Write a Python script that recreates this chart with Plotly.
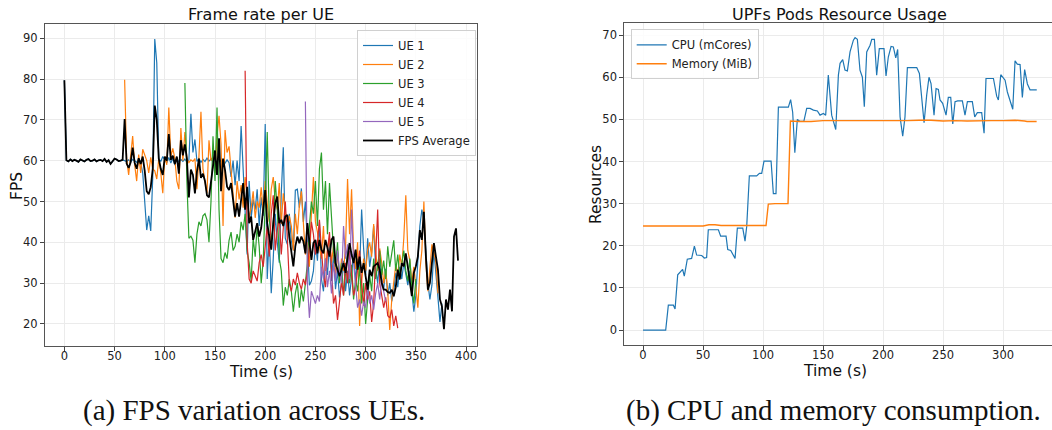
import numpy as np
import plotly.graph_objects as go

# ---------------- Left chart data (FPS, sampled every 2 s) ----------------
STEP = 2
avg_start, ue1_start, ue2_start, ue3_start, ue4_start, ue5_start = 0, 0, 60, 120, 180, 240

fps_avg = [79.7,
    60.1, 59.8, 60.3, 59.9, 60.2, 60.0, 59.7, 60.3, 60.1, 59.8, 60.2, 60.4, 59.9, 60.0, 60.3,
    59.8, 60.1, 60.2, 59.9, 60.4, 59.7, 60.1, 59.2, 60.0, 60.5, 60.3, 59.9, 60.0, 60.2,
    70.2, 59.3, 58.2, 59.6, 63.2, 59.5, 58.0, 60.6, 59.2, 61.0, 57.5, 52.5, 51.8, 53.5, 58.0,
    73.5, 70.0, 60.5, 58.0, 56.5, 61.0, 60.0, 66.5, 60.2, 61.2, 59.2, 61.0, 56.8, 65.0, 61.3,
    64.0, 60.5, 51.0, 57.8, 56.5, 52.0, 57.3, 60.5, 55.8, 56.8, 55.0, 51.5, 51.0, 55.2, 59.5,
    62.5, 56.5, 65.5, 52.5, 60.5, 57.7, 53.6, 52.8, 54.5, 50.4, 46.3, 49.6, 46.3, 50.4, 54.5,
    48.0, 53.6, 44.7, 46.3, 40.6, 43.0, 44.7, 41.4, 43.5, 48.0, 52.8, 44.7, 41.4, 38.2, 44.7,
    49.6, 51.2, 44.7, 45.5, 44.0, 46.3, 46.7, 41.4, 38.2, 34.1, 39.0, 41.4, 39.8, 41.4, 40.2,
    37.3, 44.7, 40.6, 35.7, 39.8, 40.6, 37.3, 40.6, 38.2, 37.3, 40.6, 38.5, 36.5, 40.6, 41.4,
    34.9, 33.3, 31.7, 33.3, 34.9, 32.5, 36.5, 39.8, 37.0, 34.9, 38.2, 33.3, 36.5, 32.5, 34.9,
    31.7, 28.4, 33.3, 31.7, 34.1, 34.5, 34.9, 33.3, 30.1, 28.4, 28.4, 27.8, 27.6, 28.4, 26.8,
    29.0, 33.3, 30.9, 34.9, 34.1, 37.3, 34.0, 30.9, 26.8, 32.5, 34.1, 36.5, 43.0, 40.6, 47.5,
    36.5, 28.4, 30.1, 34.9, 39.8, 36.5, 33.3, 26.0, 24.3, 18.7, 26.0, 23.5, 28.4, 23.1, 41.4,
    43.4, 35.5]

fps_ue1 = [79.7,
    60.1, 59.8, 60.3, 59.9, 60.2, 60.0, 59.7, 60.3, 60.1, 59.8, 60.2, 60.4, 59.9, 60.0, 60.3,
    59.8, 60.1, 60.2, 59.9, 60.4, 59.7, 60.1, 59.2, 60.0, 60.5, 60.3, 59.9, 60.0, 60.2,
    60.0, 59.8, 60.2, 59.7, 60.3, 60.0, 59.6, 60.4, 59.5, 57.0, 50.0, 43.0, 46.5, 42.8, 56.0,
    89.8, 84.0, 60.5, 59.8, 61.0, 60.2, 59.5, 60.8, 59.4, 60.5, 58.9, 60.7, 59.6, 60.3, 59.8,
    60.4, 59.6, 60.2, 71.5, 62.0, 65.2, 59.8, 60.5, 59.6, 60.3, 59.8, 60.6, 59.9, 60.4, 59.7,
    60.2, 59.6, 60.5, 59.8, 60.1, 59.4, 60.2, 59.5, 56.0, 60.0, 54.0, 60.0, 55.0, 68.5, 58.0,
    48.0, 37.0, 55.0, 46.0, 50.5, 48.0, 53.0, 44.0, 51.0, 46.5, 69.0, 31.0, 42.0, 27.5, 36.0,
    47.0, 40.0, 35.0, 52.0, 63.3, 41.0, 39.5, 47.0, 40.2, 38.0, 52.8, 53.0, 48.5, 53.2, 45.0,
    50.0, 38.5, 29.5, 30.5, 33.0, 40.0, 35.5, 45.0, 31.0, 28.0, 36.0, 32.0, 40.0, 30.5, 37.0,
    28.5, 33.0, 26.5, 30.0, 35.5, 28.0, 33.0, 27.0, 31.5, 38.0, 30.5, 36.0, 33.0, 48.0, 38.5,
    32.0, 41.0, 34.0, 37.5, 44.0, 33.5, 30.0, 36.0, 31.0, 28.5, 33.5, 27.0, 30.0, 25.5, 28.0,
    32.5, 29.0, 34.0, 31.0, 35.0, 32.0, 29.5, 33.0, 28.0, 23.0, 27.0, 37.0, 44.0, 48.0, 45.0,
    38.0, 30.0, 26.0, 29.5, 38.0, 33.0, 26.5, 20.5, 25.0]

fps_ue2 = [79.8, 60.5, 56.5, 62.0, 66.0, 59.0, 55.0, 61.5, 57.0, 62.8, 61.5, 60.0, 57.0, 60.8, 58.0,
    57.5, 55.5, 60.5, 57.0, 52.0, 61.0, 59.0, 73.0, 61.0, 63.0, 60.5, 55.0, 53.0, 68.0, 60.0,
    67.0, 60.5, 59.5, 60.2, 59.8, 60.5, 53.0, 61.0, 72.0, 58.0, 55.0, 52.0, 65.0, 60.0, 61.0,
    57.0, 66.0, 71.0, 64.0, 44.0, 67.5, 62.0, 63.5, 58.0, 52.0, 46.0, 55.0, 50.5, 54.0, 48.5,
    56.0, 50.0, 46.0, 48.5, 52.5, 46.0, 50.0, 48.5, 53.5, 47.5, 55.0, 49.5, 45.0, 53.0, 56.0,
    50.0, 48.0, 54.5, 44.5, 52.0, 48.0, 43.0, 46.5, 44.0, 38.0, 47.0, 42.0, 49.0, 52.5, 44.0,
    37.0, 40.0, 34.0, 47.0, 56.0, 45.0, 42.5, 39.0, 36.0, 44.0, 33.0, 38.5, 41.0, 35.0, 39.0,
    32.0, 37.5, 30.5, 36.0, 33.0, 39.0, 55.5, 42.0, 53.0, 38.0, 33.5, 40.0, 19.5, 30.0, 36.0,
    33.0, 38.0, 40.0, 36.5, 44.5, 37.5, 33.0, 38.5, 35.0, 30.0, 33.0, 28.0, 18.5, 26.0, 30.0,
    34.5, 32.0, 37.0, 34.0, 41.0, 51.5, 38.0, 35.5, 30.0, 34.0, 28.5, 24.0, 33.0, 38.0, 50.0,
    35.0, 28.0, 34.5, 39.5, 37.5, 35.0, 27.5]

fps_ue3 = [79.0, 55.0, 41.0, 41.5, 40.5, 35.0, 42.0, 45.0, 44.0, 46.5, 47.0, 45.5, 40.0, 50.0, 66.0,
    55.0, 73.0, 48.0, 36.0, 35.0, 37.5, 36.0, 40.5, 42.5, 38.0, 39.0, 42.0, 40.0, 45.0, 43.0,
    47.0, 38.0, 35.0, 30.5, 41.0, 36.5, 44.0, 39.0, 30.0, 35.5, 50.0, 67.0, 46.0, 40.0, 44.5,
    55.0, 48.0, 36.0, 33.0, 24.5, 29.0, 27.0, 31.0, 28.0, 23.0, 27.5, 30.0, 24.0, 28.5, 25.5,
    30.0, 35.0, 44.0, 50.0, 47.0, 55.0, 44.0, 58.0, 62.0, 48.0, 55.0, 42.0, 54.5, 45.0, 38.0,
    34.0, 40.0, 30.0, 35.0, 27.0, 32.0, 38.0, 30.0, 34.5, 26.0, 31.0, 28.0, 34.0, 25.0, 30.0,
    20.0, 26.5, 32.0, 28.0, 36.0, 31.0, 34.5, 38.0, 32.0, 35.5, 31.0, 39.0, 34.0, 37.0, 40.5,
    33.0, 37.0, 31.5, 35.0, 38.0, 33.0, 30.5, 36.0, 29.0, 25.0, 31.0]

fps_ue4 = [82.0, 40.0, 31.0, 30.0, 33.0, 31.5, 30.5, 35.0, 37.0, 34.0, 40.0, 44.0, 36.5, 47.0, 51.5,
    38.0, 43.0, 46.0, 37.0, 44.0, 50.0, 41.0, 30.0, 28.0, 31.0, 29.5, 32.5, 30.0, 28.5, 31.0,
    29.5, 33.0, 39.0, 45.0, 42.0, 37.0, 40.0, 45.5, 38.0, 32.0, 29.0, 38.0, 42.5, 33.0, 25.0,
    27.0, 21.0, 25.5, 30.5, 27.0, 35.0, 30.0, 38.0, 32.0, 27.0, 29.0, 33.0, 38.0, 30.0, 24.5,
    30.0, 26.0, 28.0, 20.5, 25.0, 35.0, 48.0, 30.0, 27.0, 24.0, 26.5, 22.0, 21.5, 23.5, 19.5,
    22.0, 19.0]

fps_ue5 = [74.5, 30.0, 21.5, 28.0, 26.5, 25.0, 27.0, 25.5, 34.0, 31.0, 36.0, 29.0, 33.0, 27.5, 35.0,
    30.5, 38.0, 33.0, 30.0, 44.0, 36.0, 39.5, 31.0, 48.0, 35.0, 29.0, 24.0, 26.0, 22.0, 25.5,
    24.0, 29.0, 25.0, 27.0, 23.5, 27.5, 30.0, 26.0, 31.0, 28.0, 25.5]

# ---------------- Right chart data ----------------
cpu_t = [0, 18.9, 21.1, 25.3, 26.7, 28.9, 33.0, 34.4, 36.9, 40.5, 42.8, 44.7, 48.9, 51.1, 53.0,
    54.4, 62.8, 64.7, 69.2, 70.6, 73.1, 76.7, 78.6, 83.1, 85.0, 86.4, 88.6, 94.7, 97.0, 98.9,
    100.8, 106.7, 108.6, 110.8, 112.8, 121.1, 123.0, 124.7, 126.5, 128.6, 130.8, 134.0, 136.4,
    139.2, 142.0, 145.3, 147.5, 150.3, 152.2, 154.4, 157.2, 160.6, 162.8, 164.2, 166.4, 168.3,
    170.3, 172.5, 175.3, 176.7, 178.6, 180.8, 182.8, 184.4, 186.4, 189.2, 190.6, 192.8, 194.7,
    196.9, 200.8, 202.5, 204.4, 206.7, 208.6, 210.6, 212.2, 214.2, 216.4, 218.3, 220.3, 228.1,
    230.3, 232.2, 234.2, 236.4, 238.3, 240.0, 242.5, 244.2, 246.1, 247.5, 249.7, 252.5, 254.4,
    256.4, 258.1, 260.0, 262.2, 266.1, 268.3, 270.3, 274.4, 276.4, 278.6, 282.2, 284.2, 285.8,
    292.0, 294.7, 296.1, 298.1, 301.7, 303.6, 305.8, 308.1, 310.0, 311.9, 314.2, 316.1, 318.0,
    320.3, 322.5, 328.1]
cpu_v = [0, 0, 5.9, 5.9, 5.0, 13.1, 14.4, 12.8, 16.8, 17.0, 19.9, 17.8, 17.7, 17.1, 17.2,
    23.8, 23.8, 22.3, 22.3, 19.1, 18.9, 17.0, 24.2, 24.2, 21.1, 24.6, 36.6, 36.6, 37.2, 37.2,
    40.1, 40.1, 32.4, 32.4, 52.9, 52.9, 54.7, 51.7, 42.1, 50.0, 49.5, 49.5, 52.6,
    52.6, 52.2, 52.0, 51.0, 51.4, 51.0, 60.5, 51.0, 47.6, 60.5, 63.3, 64.2, 61.7,
    61.5, 66.0, 68.8, 69.4, 69.0, 61.7, 60.0, 53.0, 66.0, 67.6, 69.0, 69.0, 60.5,
    66.8, 66.8, 60.3, 64.8, 67.3, 67.2, 64.6, 66.6, 50.6, 46.0, 50.6, 62.3, 62.3,
    60.9, 54.6, 49.2, 55.8, 60.0, 58.5, 51.0, 57.3, 57.1, 54.6, 53.8, 51.0, 55.2,
    55.2, 48.9, 54.2, 54.4, 54.4, 51.0, 54.2, 54.2, 50.6, 51.6, 51.6, 46.7, 59.7,
    59.7, 55.5, 54.6, 60.6, 59.3, 56.5, 54.6, 52.4, 63.9, 63.1, 63.0, 55.2, 61.8,
    58.4, 57.0, 57.0]

mem_t = [0, 10, 20, 30, 40, 50, 55, 60, 65, 70, 80, 90, 100, 102.5, 104.4, 110, 120.8, 122.8, 130, 140,
    150, 160, 170, 180, 190, 200, 210, 220, 230, 240, 250, 260, 270, 280, 290, 300, 310, 318, 320, 328]
mem_v = [24.7, 24.7, 24.8, 24.8, 24.7, 24.7, 25.0, 25.0, 24.8, 24.8, 24.9, 24.9, 24.8, 24.8, 29.9, 30.0,
    30.0, 49.6, 49.5, 49.5, 49.7, 49.7, 49.6, 49.7, 49.6, 49.6, 49.7, 49.7, 49.8, 49.8, 49.6, 49.7,
    49.6, 49.7, 49.7, 49.7, 49.8, 49.6, 49.5, 49.5]

left_ticks_x = [0, 50, 100, 150, 200, 250, 300, 350, 400]
left_ticks_y = [20, 30, 40, 50, 60, 70, 80, 90]
right_ticks_x = [0, 50, 100, 150, 200, 250, 300]
right_ticks_y = [0, 10, 20, 30, 40, 50, 60, 70]

# ---------------- Figure ----------------
W, H = 1052, 430
FONT = "DejaVu Sans"
C = ["#1f77b4", "#ff7f0e", "#2ca02c", "#d62728", "#9467bd"]

def times(start, vals):
    return start + STEP * np.arange(len(vals))

fig = go.Figure()
ue_series = [("UE 1", ue1_start, fps_ue1), ("UE 2", ue2_start, fps_ue2), ("UE 3", ue3_start, fps_ue3),
             ("UE 4", ue4_start, fps_ue4), ("UE 5", ue5_start, fps_ue5)]
for i, (name, st, vals) in enumerate(ue_series):
    fig.add_trace(go.Scatter(x=times(st, vals), y=vals, mode="lines", name=name,
                             line=dict(color=C[i], width=1.2), xaxis="x", yaxis="y", legend="legend"))
fig.add_trace(go.Scatter(x=times(avg_start, fps_avg), y=fps_avg, mode="lines", name="FPS Average",
                         line=dict(color="black", width=1.8), xaxis="x", yaxis="y", legend="legend"))

fig.add_trace(go.Scatter(x=cpu_t, y=cpu_v, mode="lines", name="CPU (mCores)",
                         line=dict(color=C[0], width=1.2), xaxis="x2", yaxis="y2", legend="legend2"))
fig.add_trace(go.Scatter(x=mem_t, y=mem_v, mode="lines", name="Memory (MiB)",
                         line=dict(color=C[1], width=1.4), xaxis="x2", yaxis="y2", legend="legend2"))

def px_x(p):
    return p / W

def px_y(p):
    return 1 - p / H

axis_common = dict(showgrid=True, gridcolor="#ebebeb", gridwidth=1, zeroline=False,
                   showline=True, linecolor="#555555", linewidth=1, ticks="outside", ticklen=4,
                   tickcolor="#444444", tickfont=dict(family=FONT, size=11.5, color="#222222"))

L_x0, L_x1, L_y0, L_y1 = 45, 476.7, 24.3, 346
R_x0, R_x1, R_y0, R_y1 = 624.3, 1052, 23.3, 345

fig.update_layout(
    width=W, height=H, margin=dict(l=0, r=0, t=0, b=0, pad=0),
    paper_bgcolor="white", plot_bgcolor="white", showlegend=True,
    font=dict(family=FONT, color="#222222"),
    xaxis=dict(domain=[px_x(L_x0), px_x(L_x1)], range=[-19.3, 410.6], tickvals=left_ticks_x,
               mirror=True, anchor="y", ticklabelstandoff=-5, **axis_common),
    yaxis=dict(domain=[px_y(L_y1), px_y(L_y0)], range=[14.6, 93.4], tickvals=left_ticks_y,
               mirror=True, anchor="x", **axis_common),
    xaxis2=dict(domain=[px_x(R_x0), px_x(R_x1)], range=[-15.6, 340.8], tickvals=right_ticks_x,
                mirror=True, anchor="y2", ticklabelstandoff=-5, **axis_common),
    yaxis2=dict(domain=[px_y(R_y1), px_y(R_y0)], range=[-3.55, 72.8], tickvals=right_ticks_y,
                mirror=False, anchor="x2", **axis_common),
    legend=dict(x=px_x(357), y=px_y(30), xanchor="left", yanchor="top",
                bgcolor="rgba(255,255,255,0.85)", bordercolor="#d0d0d0", borderwidth=1,
                font=dict(family=FONT, size=11.5, color="#222222"), tracegroupgap=0),
    legend2=dict(x=px_x(630.7), y=px_y(29.3), xanchor="left", yanchor="top",
                 bgcolor="rgba(255,255,255,0.85)", bordercolor="#d0d0d0", borderwidth=1,
                 font=dict(family=FONT, size=11.5, color="#222222"), tracegroupgap=0),
)

ann = []
def text(x, y, s, size, family=FONT, angle=0):
    ann.append(dict(x=px_x(x), y=px_y(y), xref="paper", yref="paper", text=s, showarrow=False,
                    xanchor="center", yanchor="middle", textangle=angle,
                    font=dict(family=family, size=size, color="#111111")))

text((L_x0 + L_x1) / 2, 15, "Frame rate per UE", 16)
text(839.6, 14, "UPFs Pods Resource Usage", 16)
text((L_x0 + L_x1) / 2, 372, "Time (s)", 15.5)
text(835, 371, "Time (s)", 15.5)
text(16.5, 186.5, "FPS", 15.5, angle=-90)
text(596, 185, "Resources", 15.5, angle=-90)
text(254, 410, "(a) FPS variation across UEs.", 29, family="Liberation Serif")
text(833, 410, "(b) CPU and memory consumption.", 29, family="Liberation Serif")
fig.update_layout(annotations=ann)

fig.write_html("out.html", config={"displayModeBar": False},
               post_script="document.body.style.margin='0';document.body.style.padding='0';")
